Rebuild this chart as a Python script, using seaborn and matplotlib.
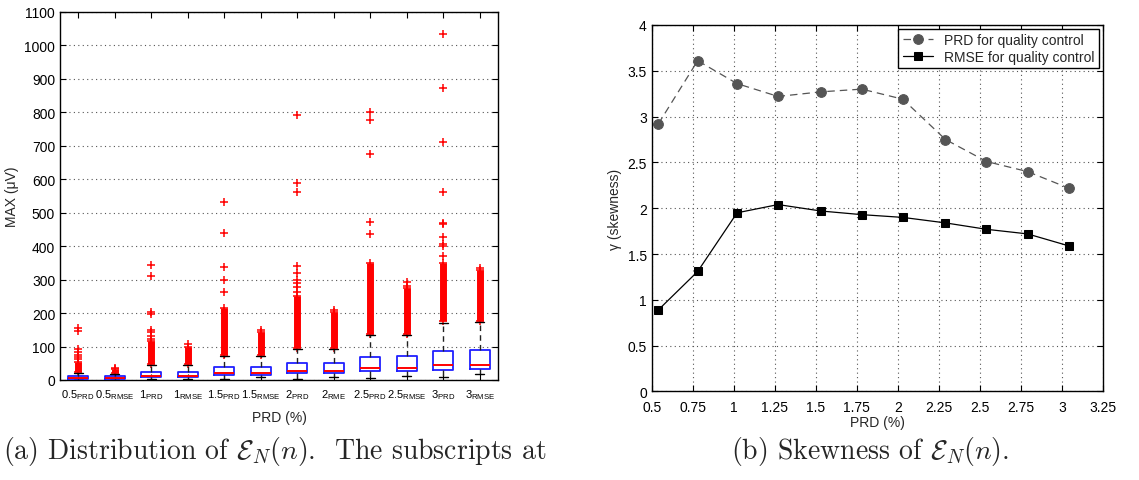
import numpy as np
import matplotlib
matplotlib.use("Agg")
import matplotlib.pyplot as plt
import seaborn as sns

# ---- left panel: box statistics of E_N(n) per quality-control setting ----
box_labels = [r"0.5$_{\mathrm{PRD}}$", r"0.5$_{\mathrm{RMSE}}$", r"1$_{\mathrm{PRD}}$",
              r"1$_{\mathrm{RMSE}}$", r"1.5$_{\mathrm{PRD}}$", r"1.5$_{\mathrm{RMSE}}$",
              r"2$_{\mathrm{PRD}}$", r"2$_{\mathrm{RME}}$", r"2.5$_{\mathrm{PRD}}$",
              r"2.5$_{\mathrm{RMSE}}$", r"3$_{\mathrm{PRD}}$", r"3$_{\mathrm{RMSE}}$"]
q1 = [3, 4, 9, 9, 15, 15, 22, 22, 27, 27, 30, 32]
med = [6, 7, 13, 13, 21, 21, 28, 28, 35, 35, 45, 44]
q3 = [12, 12, 25, 25, 38, 39, 50, 52, 70, 72, 88, 90]
whis_lo = [0, 0, 2, 2, 3, 8, 4, 10, 5, 13, 9, 18]
whis_hi = [21, 19, 44, 45, 71, 71, 93, 93, 133, 135, 171, 173]
# dense runs of outliers (drawn as solid red columns)
dense_lo = [23, 21, 47, 47, 74, 74, 96, 96, 136, 137, 175, 176]
dense_hi = [55, 33, 115, 100, 215, 143, 250, 203, 350, 275, 350, 328]
# isolated outliers above the dense runs
sparse = [
    [62, 68, 76, 85, 94, 145, 155],
    [36],
    [122, 132, 142, 150, 196, 202, 310, 345],
    [106],
    [262, 298, 338, 440, 533],
    [148],
    [262, 278, 290, 300, 320, 340, 562, 588, 792],
    [208],
    [435, 473, 675, 778, 802],
    [282, 292],
    [372, 400, 405, 427, 465, 470, 562, 712, 872, 1035],
    [335],
]

# ---- right panel: skewness ----
prd_x = [0.54, 0.78, 1.02, 1.27, 1.53, 1.78, 2.03, 2.29, 2.54, 2.79, 3.04]
gamma_prd = [2.92, 3.61, 3.36, 3.22, 3.27, 3.30, 3.19, 2.75, 2.51, 2.40, 2.22]
gamma_rmse = [0.89, 1.31, 1.95, 2.04, 1.97, 1.93, 1.90, 1.84, 1.77, 1.72, 1.59]

sns.set_style("ticks")
plt.rcParams["font.family"] = ["Liberation Sans", "DejaVu Sans"]
plt.rcParams["mathtext.fontset"] = "custom"
plt.rcParams["mathtext.rm"] = "Liberation Sans"
plt.rcParams["mathtext.it"] = "Liberation Sans:italic"
plt.rcParams["mathtext.bf"] = "Liberation Sans:bold"

fig = plt.figure(figsize=(11.39, 4.81), dpi=100)
ax1 = fig.add_axes([0.0527, 0.208, 0.3845, 0.765])
ax2 = fig.add_axes([0.5722, 0.184, 0.3962, 0.762])

positions = np.arange(1, len(box_labels) + 1)
stats = []
for i in range(len(box_labels)):
    stats.append(dict(q1=q1[i], med=med[i], q3=q3[i], whislo=whis_lo[i],
                      whishi=whis_hi[i], fliers=sparse[i]))

ax1.vlines(positions, dense_lo, dense_hi, color="red", lw=5, zorder=2)
ax1.plot(positions, dense_lo, "+", color="red", ms=6, mew=1.1, zorder=2)
ax1.plot(positions, dense_hi, "+", color="red", ms=6, mew=1.1, zorder=2)
ax1.bxp(stats, positions=positions, widths=0.55, capwidths=0.25,
        boxprops=dict(color="#2020ff", lw=1.3),
        medianprops=dict(color="red", lw=1.4),
        whiskerprops=dict(color="#222222", lw=1.0, ls=(0, (4, 3))),
        capprops=dict(color="black", lw=1.0),
        flierprops=dict(marker="+", markeredgecolor="red", markersize=6, mew=1.1),
        zorder=3)

ax1.set_xlim(0.5, 12.5)
ax1.set_ylim(0, 1100)
ax1.set_yticks(np.arange(0, 1101, 100))
ax1.set_xticks(positions)
ax1.set_xticklabels(box_labels, fontsize=8)
ax1.tick_params(axis="y", labelsize=10)
ax1.set_xlabel("PRD (%)", fontsize=10, labelpad=7)
ax1.set_ylabel("MAX (μV)", fontsize=10, labelpad=4)
ax1.yaxis.grid(True, ls=(0, (1, 3)), color="#555555", lw=0.8)
ax1.set_axisbelow(True)

sns.lineplot(x=prd_x, y=gamma_prd, ax=ax2, color="#555555", lw=0.9,
             linestyle=(0, (6, 4)), marker="o", markersize=7,
             markeredgecolor="#555555", label="PRD for quality control")
sns.lineplot(x=prd_x, y=gamma_rmse, ax=ax2, color="black", lw=0.9,
             marker="s", markersize=6, markeredgecolor="black",
             label="RMSE for quality control")
ax2.set_xlim(0.5, 3.25)
ax2.set_ylim(0, 4)
ax2.set_xticks(np.arange(0.5, 3.26, 0.25))
ax2.set_xticklabels(["0.5", "0.75", "1", "1.25", "1.5", "1.75", "2",
                     "2.25", "2.5", "2.75", "3", "3.25"])
ax2.set_yticks(np.arange(0, 4.01, 0.5))
ax2.set_yticklabels(["0", "0.5", "1", "1.5", "2", "2.5", "3", "3.5", "4"])
ax2.tick_params(labelsize=10)
ax2.set_xlabel("PRD (%)", fontsize=10, labelpad=1)
ax2.set_ylabel("γ (skewness)", fontsize=10, labelpad=4)
ax2.grid(True, ls=(0, (1, 3)), color="#555555", lw=0.8)
leg = ax2.legend(loc="upper right", fontsize=10, frameon=True, fancybox=False,
                 framealpha=1, edgecolor="black", borderpad=0.3,
                 labelspacing=0.2, handlelength=2.2, borderaxespad=0.3)
leg.get_frame().set_linewidth(1.0)

for ax in (ax1, ax2):
    ax.tick_params(direction="in", top=True, right=True, length=4, width=0.8,
                   colors="black")
    for sp in ax.spines.values():
        sp.set_visible(True)
        sp.set_color("black")
        sp.set_linewidth(1.0)
ax1.tick_params(axis="x", pad=5)
ax2.tick_params(axis="x", pad=6)

fig.text(0.003, 0.062, r"(a) Distribution of $\mathcal{E}_N(n)$.  The subscripts at",
         fontsize=20, family="cmr10", math_fontfamily="cm", ha="left", va="center")
fig.text(0.764, 0.062, r"(b) Skewness of $\mathcal{E}_N(n)$.",
         fontsize=20, family="cmr10", math_fontfamily="cm", ha="center", va="center")

fig.savefig("out.png", dpi=100)
